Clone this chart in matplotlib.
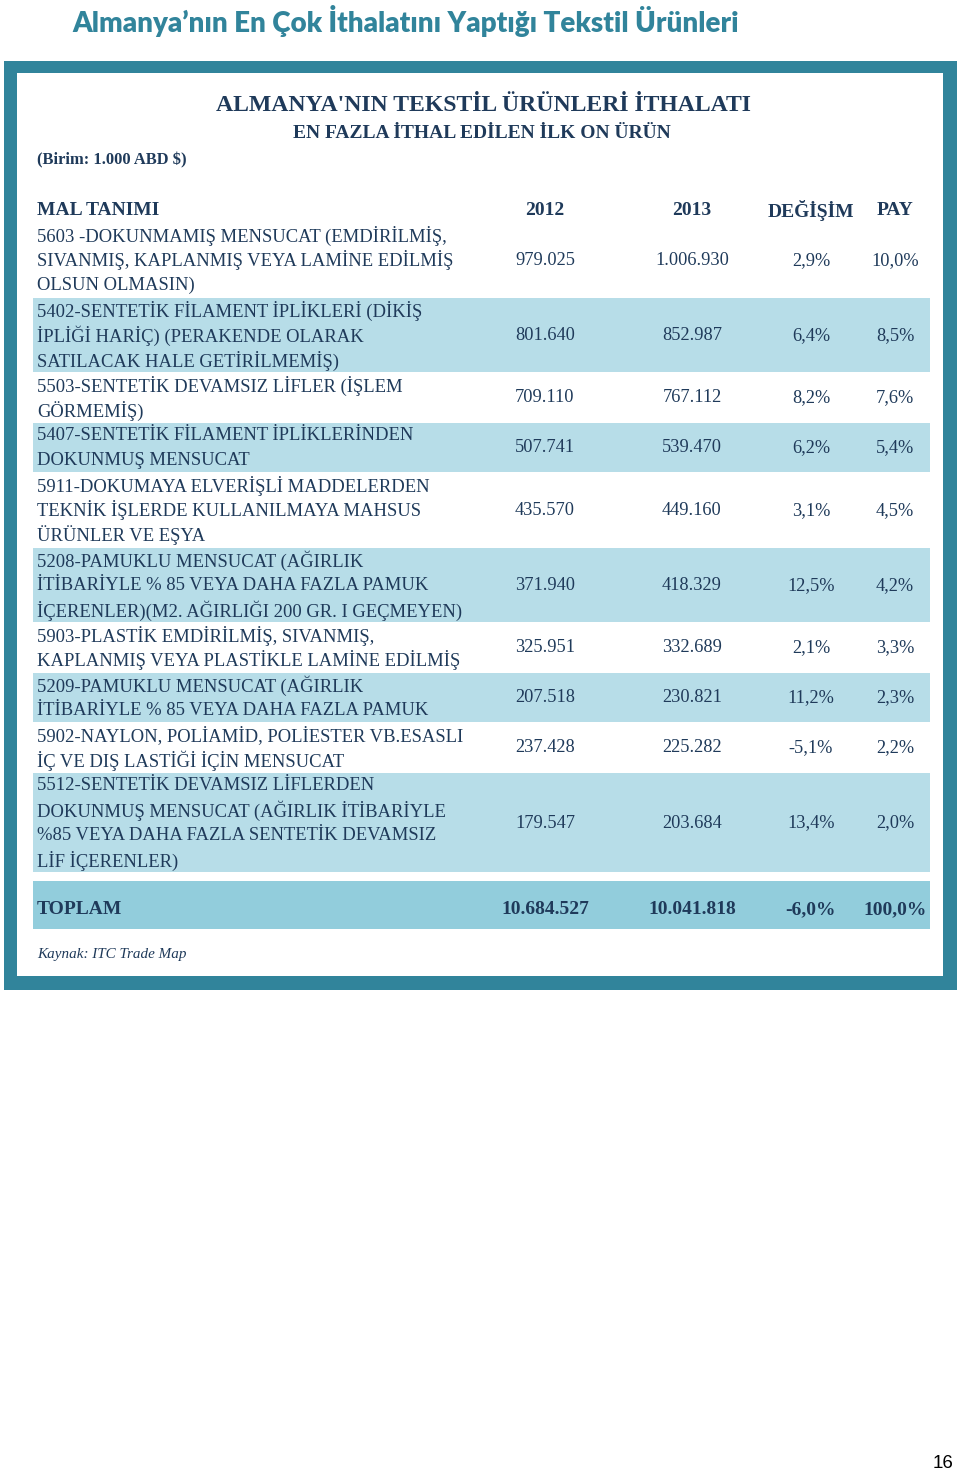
import matplotlib
matplotlib.use('Agg')
import matplotlib.pyplot as plt
from matplotlib.patches import Rectangle

# Tablo verileri
descriptions = [
    ['5603 -DOKUNMAMIŞ MENSUCAT (EMDİRİLMİŞ,', 'SIVANMIŞ, KAPLANMIŞ VEYA LAMİNE EDİLMİŞ', 'OLSUN OLMASIN)'],
    ['5402-SENTETİK FİLAMENT İPLİKLERİ (DİKİŞ', 'İPLİĞİ HARİÇ) (PERAKENDE OLARAK', 'SATILACAK HALE GETİRİLMEMİŞ)'],
    ['5503-SENTETİK DEVAMSIZ LİFLER (İŞLEM', 'GÖRMEMİŞ)'],
    ['5407-SENTETİK FİLAMENT İPLİKLERİNDEN', 'DOKUNMUŞ MENSUCAT'],
    ['5911-DOKUMAYA ELVERİŞLİ MADDELERDEN', 'TEKNİK İŞLERDE KULLANILMAYA MAHSUS', 'ÜRÜNLER VE EŞYA'],
    ['5208-PAMUKLU MENSUCAT (AĞIRLIK', 'İTİBARİYLE % 85 VEYA DAHA FAZLA PAMUK', 'İÇERENLER)(M2. AĞIRLIĞI 200 GR. I GEÇMEYEN)'],
    ['5903-PLASTİK EMDİRİLMİŞ, SIVANMIŞ,', 'KAPLANMIŞ VEYA PLASTİKLE LAMİNE EDİLMİŞ'],
    ['5209-PAMUKLU MENSUCAT (AĞIRLIK', 'İTİBARİYLE % 85 VEYA DAHA FAZLA PAMUK'],
    ['5902-NAYLON, POLİAMİD, POLİESTER VB.ESASLI', 'İÇ VE DIŞ LASTİĞİ İÇİN MENSUCAT'],
    ['5512-SENTETİK DEVAMSIZ LİFLERDEN', 'DOKUNMUŞ MENSUCAT (AĞIRLIK İTİBARİYLE',
     '%85 VEYA DAHA FAZLA SENTETİK DEVAMSIZ', 'LİF İÇERENLER)'],
]
imp_2012 = [979025, 801640, 709110, 507741, 435570, 371940, 325951, 207518, 237428, 179547]
imp_2013 = [1006930, 852987, 767112, 539470, 449160, 418329, 332689, 230821, 225282, 203684]
change = [2.9, 6.4, 8.2, 6.2, 3.1, 12.5, 2.1, 11.2, -5.1, 13.4]
share = [10.0, 8.5, 7.6, 5.4, 4.5, 4.2, 3.3, 2.3, 2.2, 2.0]
total_2012 = 10684527
total_2013 = 10041818
total_change = -6.0
total_share = 100.0
headers = ['MAL TANIMI', '2012', '2013', 'DEĞİŞİM', 'PAY']


def fmt_int(v):
    return f'{v:,}'.replace(',', '.')


def fmt_pct(v):
    return f'{v:.1f}%'.replace('.', ',')


TEAL = '#31849B'
NAVY = '#1F3A5A'
LIGHT = '#B7DDE8'
DARK_BAND = '#92CDDC'
SERIF = 'Liberation Serif'
DY = 2.5  # metin dikey kayması

fig = plt.figure(figsize=(9.6, 14.73), dpi=100)
ax = fig.add_axes([0, 0, 1, 1])
ax.set_xlim(0, 960)
ax.set_ylim(1473, 0)
ax.axis('off')

# Sayfa başlığı
ax.text(72, 21, 'Almanya’nın En Çok İthalatını Yaptığı Tekstil Ürünleri',
        color=TEAL, fontsize=20, fontweight='heavy', family='Lato',
        va='center', ha='left')

# Çerçeve
ax.add_patch(Rectangle((4, 61), 953, 929, facecolor=TEAL, edgecolor='none'))
ax.add_patch(Rectangle((17, 73), 926, 903, facecolor='white', edgecolor='none'))

ax.text(483, 103 + DY, "ALMANYA'NIN TEKSTİL ÜRÜNLERİ İTHALATI", color=NAVY,
        fontsize=17.1, fontweight='bold', family=SERIF, ha='center', va='center')
ax.text(482, 131 + DY, 'EN FAZLA İTHAL EDİLEN İLK ON ÜRÜN', color=NAVY,
        fontsize=14, fontweight='bold', family=SERIF, ha='center', va='center')
ax.text(37, 158 + DY, '(Birim: 1.000 ABD $)', color=NAVY,
        fontsize=11.9, fontweight='bold', family=SERIF, ha='left', va='center')

col_x = [37, 545, 692, 811, 895]
for i, h in enumerate(headers):
    ax.text(col_x[i], 208 + DY, h, color=NAVY, fontsize=14, fontweight='bold',
            family=SERIF, ha='left' if i == 0 else 'center', va='center')

line_h = 25
top = 222.5
for i, lines in enumerate(descriptions):
    h = len(lines) * line_h
    if i % 2 == 1:
        ax.add_patch(Rectangle((33, top + 0.5), 897, h - 1, facecolor=LIGHT,
                               edgecolor='none'))
    for j, ln in enumerate(lines):
        ax.text(37, top + line_h * (j + 0.5) + 0.5, ln, color=NAVY, fontsize=13.4,
                family=SERIF, ha='left', va='center')
    mid = top + h / 2 + 0.5
    vals = [fmt_int(imp_2012[i]), fmt_int(imp_2013[i]), fmt_pct(change[i]), fmt_pct(share[i])]
    for k, v in enumerate(vals):
        ax.text(col_x[k + 1], mid, v, color=NAVY, fontsize=13.2, family=SERIF,
                ha='center', va='center')
    top += h

# Toplam satırı
ax.add_patch(Rectangle((33, 881), 897, 48, facecolor=DARK_BAND, edgecolor='none'))
ax.text(37, 907 + DY, 'TOPLAM', color=NAVY, fontsize=14, fontweight='bold',
        family=SERIF, ha='left', va='center')
tvals = [fmt_int(total_2012), fmt_int(total_2013), fmt_pct(total_change), fmt_pct(total_share)]
for k, v in enumerate(tvals):
    ax.text(col_x[k + 1], 907 + DY, v, color=NAVY, fontsize=14, fontweight='bold',
            family=SERIF, ha='center', va='center')

ax.text(37, 952 + DY, 'Kaynak: ITC Trade Map', color=NAVY, fontsize=10.9,
        style='italic', family=SERIF, ha='left', va='center')

ax.text(943, 1463, '16', color='black', fontsize=13.5, family='Liberation Sans',
        ha='center', va='center')

fig.savefig('out.png', dpi=100)
